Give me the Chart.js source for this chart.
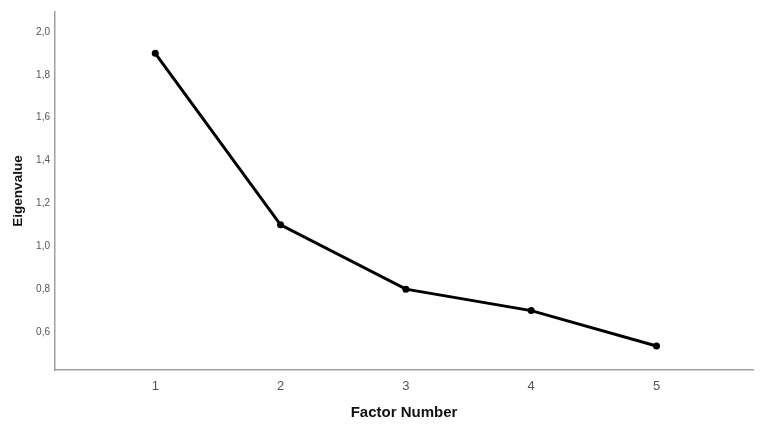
<!DOCTYPE html>
<html>
<head>
<meta charset="utf-8">
<script src="https://cdn.jsdelivr.net/npm/chart.js@4/dist/chart.umd.min.js"></script>
<style>
html,body{margin:0;padding:0;background:#fff;}
#wrap{width:765px;height:426px;position:relative;}
</style>
</head>
<body>
<div id="wrap"><canvas id="c" width="765" height="426"></canvas></div>
<script>
const factors = [1, 2, 3, 4, 5];
const eigenvalues = [1.90, 1.10, 0.80, 0.70, 0.535];
const yTicks = [0.6, 0.8, 1.0, 1.2, 1.4, 1.6, 1.8, 2.0];
const xTitle = 'Factor Number';
const yTitle = 'Eigenvalue';

const points = factors.map((f, i) => ({x: f, y: eigenvalues[i]}));

new Chart(document.getElementById('c'), {
  type: 'line',
  data: {
    datasets: [{
      data: points,
      borderColor: '#000',
      backgroundColor: '#000',
      borderWidth: 3,
      pointRadius: 3.5,
      pointBackgroundColor: '#000',
      pointBorderWidth: 0,
      tension: 0
    }]
  },
  options: {
    responsive: false,
    animation: false,
    layout: {padding: {top: 12, right: 12, bottom: 4, left: 0}},
    plugins: {legend: {display: false}, tooltip: {enabled: false}},
    scales: {
      x: {
        type: 'linear',
        min: 0.2,
        max: 5.77,
        afterBuildTicks: s => { s.ticks = factors.map(v => ({value: v})); },
        afterFit: s => { s.height = 52; },
        grid: {display: false, drawTicks: false},
        border: {display: true, color: '#a0a0a0', width: 1.5},
        ticks: {color: '#555', font: {family: 'Liberation Sans', size: 13}, padding: 9,
                callback: v => String(v)},
        title: {display: true, text: xTitle, color: '#111',
                font: {family: 'Liberation Sans', size: 15, weight: 'bold'}, padding: {top: 4, bottom: 0}}
      },
      y: {
        type: 'linear',
        min: 0.423,
        max: 2.093,
        afterBuildTicks: s => { s.ticks = yTicks.map(v => ({value: v})); },
        afterFit: s => { s.width = 55; },
        grid: {display: false, drawTicks: false},
        border: {display: true, color: '#a0a0a0', width: 1.5},
        ticks: {color: '#555', font: {family: 'Liberation Sans', size: 10}, padding: 5,
                callback: v => v.toFixed(1).replace('.', ',')},
        title: {display: true, text: yTitle, color: '#111',
                font: {family: 'Liberation Sans', size: 13.5, weight: 'bold'}, padding: {top: 10, bottom: 8}}
      }
    }
  }
});
</script>
</body>
</html>
